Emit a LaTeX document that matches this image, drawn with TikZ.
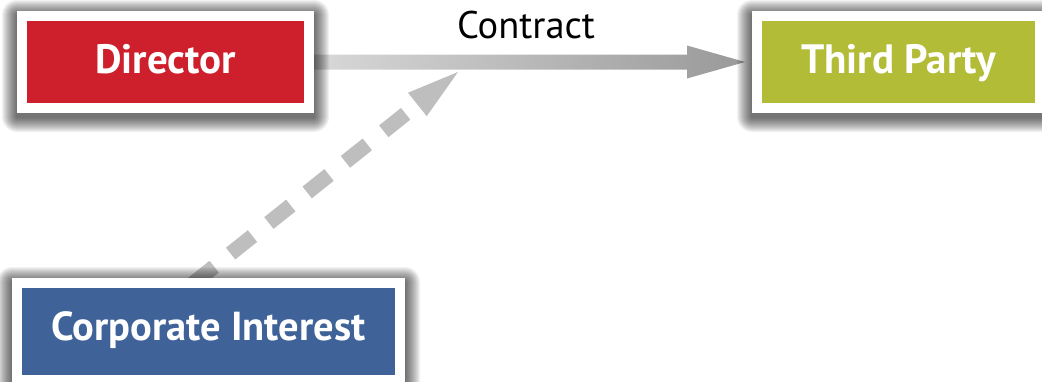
\documentclass[tikz,border=0pt]{standalone}
\usepackage{fontspec}
\setmainfont{PT Sans}
\usetikzlibrary{calc,arrows.meta}
\pgfdeclarelayer{arrowlayer}
\pgfdeclarelayer{shadowlayer}
\pgfsetlayers{arrowlayer,shadowlayer,main}
\definecolor{dirred}{RGB}{206,32,44}
\definecolor{tpgreen}{RGB}{178,188,54}
\definecolor{cpblue}{RGB}{63,98,153}
\definecolor{dashgray}{RGB}{190,190,190}
\begin{document}
\begin{tikzpicture}[x=1pt,y=-1pt,
  box/.style={draw=white, line width=10pt, outer sep=5pt, inner sep=0pt,
    minimum height=92pt, text=white, text height=28pt, text depth=6pt,
    font=\fontsize{41}{43}\selectfont\bfseries},
  lbl/.style={font=\fontsize{38.5}{40}\selectfont, text=black}]
\useasboundingbox (0,0) rectangle (1042,381);
\node[box, fill=dirred, minimum width=287pt] (director) at (165.5,62) {Director};
\node[box, fill=tpgreen, minimum width=283pt] (third) at (898.5,62) {Third Party};
\node[box, fill=cpblue, minimum width=383pt, minimum height=97pt, text depth=11pt,
  font=\fontsize{40.5}{42}\selectfont\bfseries] (corp) at (208.5,331.5) {Corporate Interest};
\node[lbl, anchor=base] (contract) at (526,38) {Contract};
\begin{pgfonlayer}{shadowlayer}
\foreach \n in {director,third,corp}{
  \foreach \k in {1,...,15}{
    \fill[black, opacity=0.05, rounded corners=\k pt]
      ($(\n.north west)+(-\k,-\k+4)$) rectangle ($(\n.south east)+(\k,\k+4)$);
  }}
\end{pgfonlayer}
\begin{pgfonlayer}{arrowlayer}
\coordinate (cs) at ($(director.east)+(-5,0)$);
\coordinate (ct) at ($(third.west)+(-7,0)$);
\coordinate (ch) at ($(ct)+(-58,0)$);
\shade[left color=gray!30, right color=gray!80]
  ($(cs)+(0,-7.5)$) -- ($(ch)+(0,-7.5)$) -- ($(ch)+(0,-16.5)$) -- (ct)
  -- ($(ch)+(0,16.5)$) -- ($(ch)+(0,7.5)$) -- ($(cs)+(0,7.5)$) -- cycle;
\coordinate (meet) at (458,72);
\coordinate (dstart) at ($(corp.north)+(-16,6)$);
\coordinate (hb) at ($(meet)!52pt!(dstart)$);
\draw[dashgray, line width=15pt, dash pattern=on 28pt off 21pt, dash phase=34pt]
  (hb) -- (dstart);
\fill[dashgray] (meet) -- ($(hb)!15pt!90:(meet)$) -- ($(hb)!15pt!-90:(meet)$) -- cycle;
\end{pgfonlayer}
\end{tikzpicture}
\end{document}
